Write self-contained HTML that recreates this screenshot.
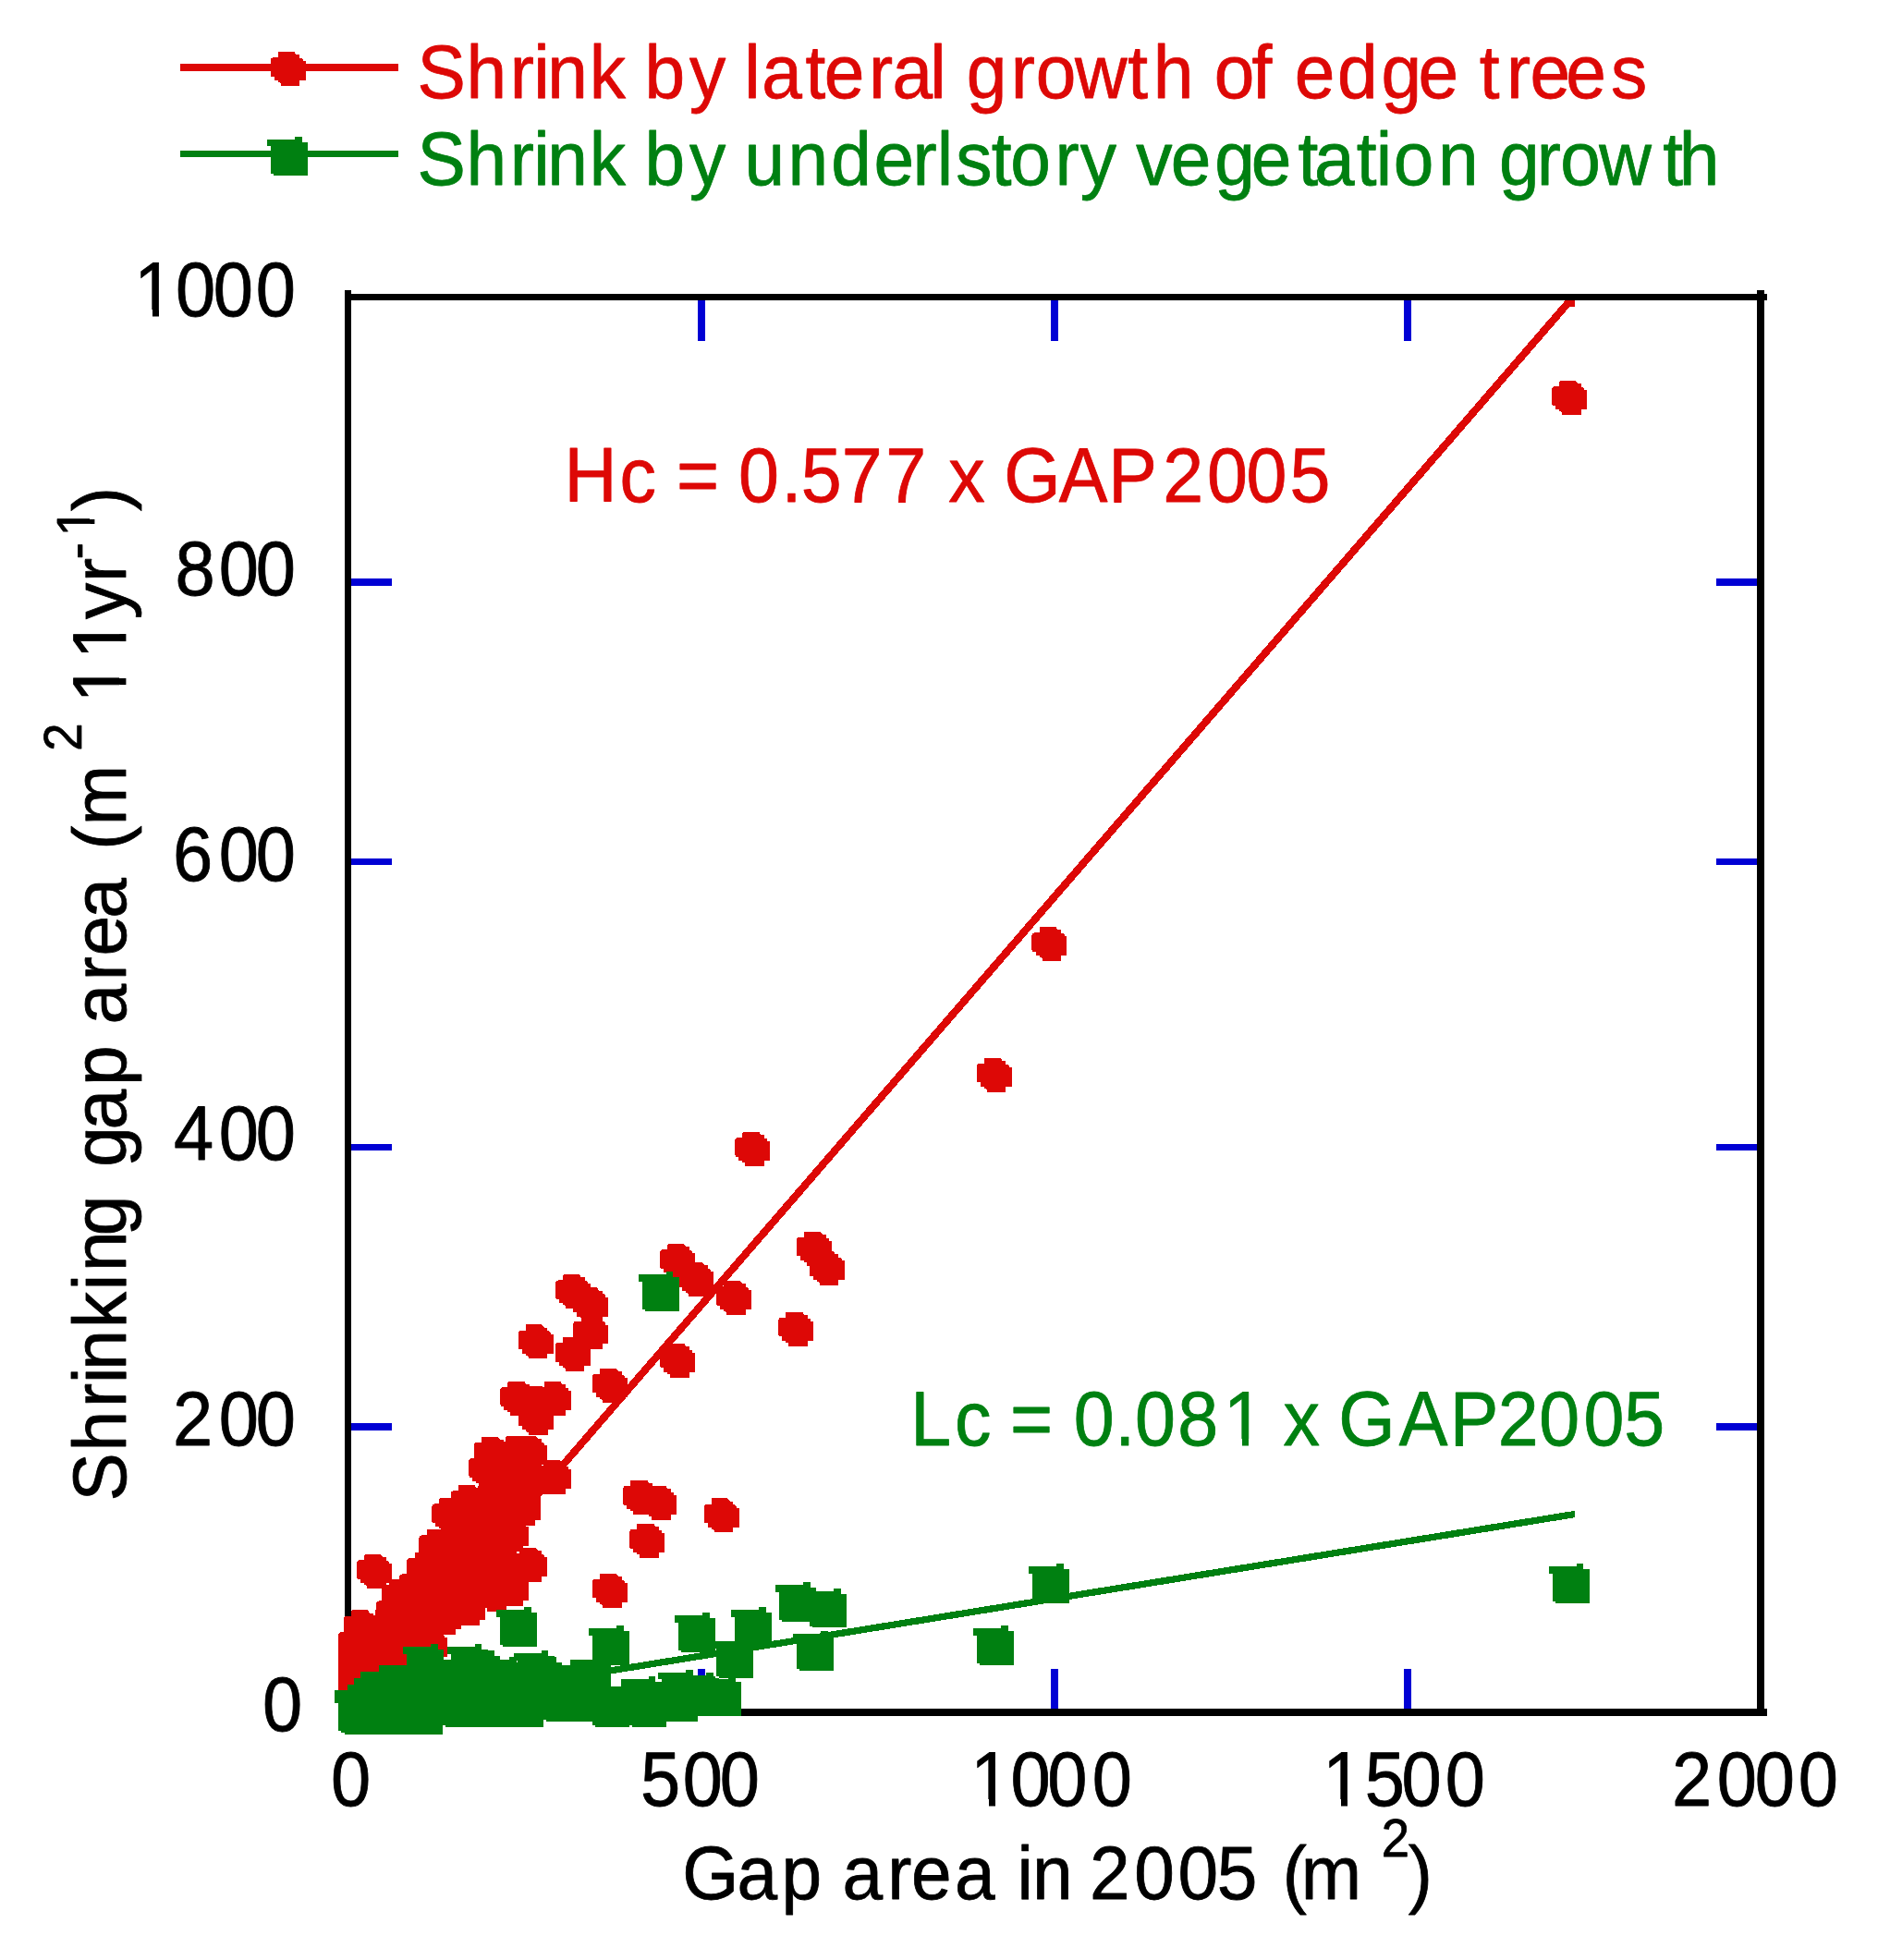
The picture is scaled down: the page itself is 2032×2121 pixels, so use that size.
<!DOCTYPE html>
<html><head><meta charset="utf-8"><title>Shrinking gap area vs gap area in 2005</title>
<style>
html,body{margin:0;padding:0;background:#fff;}
svg{display:block;font-family:"Liberation Sans", sans-serif;}
text{white-space:pre;stroke-width:0.8px;stroke-linejoin:round;}
</style></head><body>
<svg width="2032" height="2121" viewBox="0 0 2032 2121" shape-rendering="crispEdges">
<rect width="2032" height="2121" fill="#fff"/>
<polygon points="376.8,1857.0 376.8,1847.8 1698.0,320.0 1704.0,320.0 1704.0,325.5 379.5,1857.0" fill="#dd0806"/>
<polygon points="376.8,1857.0 376.8,1850.3 1704.0,1634.8 1704.0,1642.2 380.7,1857.0" fill="#008011"/>
<rect x="1694.30" y="322.00" width="9.50" height="9.50" fill="#dd0806"/>
<rect x="373.00" y="314.00" width="7.30" height="1543.00" fill="#000"/>
<rect x="1901.00" y="314.00" width="8.00" height="1543.00" fill="#000"/>
<rect x="373.00" y="318.00" width="1539.00" height="7.20" fill="#000"/>
<rect x="373.00" y="1849.00" width="1539.00" height="7.80" fill="#000"/>
<rect x="380.30" y="626.00" width="43.70" height="8.00" fill="#0000d4"/>
<rect x="1857.00" y="626.00" width="44.00" height="8.00" fill="#0000d4"/>
<rect x="380.30" y="929.00" width="43.70" height="7.30" fill="#0000d4"/>
<rect x="1857.00" y="929.00" width="44.00" height="7.30" fill="#0000d4"/>
<rect x="380.30" y="1238.00" width="43.70" height="7.30" fill="#0000d4"/>
<rect x="1857.00" y="1238.00" width="44.00" height="7.30" fill="#0000d4"/>
<rect x="380.30" y="1540.00" width="43.70" height="8.00" fill="#0000d4"/>
<rect x="1857.00" y="1540.00" width="44.00" height="8.00" fill="#0000d4"/>
<rect x="755.00" y="325.20" width="7.60" height="43.30" fill="#0000d4"/>
<rect x="755.00" y="1806.00" width="7.60" height="43.00" fill="#0000d4"/>
<rect x="1137.00" y="325.20" width="8.00" height="43.30" fill="#0000d4"/>
<rect x="1137.00" y="1806.00" width="8.00" height="43.00" fill="#0000d4"/>
<rect x="1519.00" y="325.20" width="7.60" height="43.30" fill="#0000d4"/>
<rect x="1519.00" y="1806.00" width="7.60" height="43.00" fill="#0000d4"/>
<g id="series-lateral" fill="#dd0806">
<polygon points="1687.9,411.9 1704.9,411.9 1707.1,415.1 1710.9,415.1 1710.9,418.9 1712.9,418.9 1714.1,420.3 1714.1,422.1 1717.0,422.1 1717.0,443.0 1710.9,443.0 1710.9,448.9 1690.2,448.9 1690.2,446.2 1688.9,445.2 1687.2,444.9 1687.2,443.0 1683.1,443.0 1683.1,438.8 1680.0,438.8 1679.0,436.9 1679.0,421.3 1680.0,419.0 1682.2,418.1 1687.2,418.1 1687.2,413.3"/>
<polygon points="1125.3,1002.9 1142.3,1002.9 1144.5,1006.1 1148.3,1006.1 1148.3,1009.9 1150.3,1009.9 1151.5,1011.3 1151.5,1013.1 1154.4,1013.1 1154.4,1034.0 1148.3,1034.0 1148.3,1039.9 1127.6,1039.9 1127.6,1037.2 1126.3,1036.2 1124.6,1035.9 1124.6,1034.0 1120.5,1034.0 1120.5,1029.8 1117.4,1029.8 1116.4,1027.9 1116.4,1012.3 1117.4,1010.0 1119.6,1009.1 1124.6,1009.1 1124.6,1004.3"/>
<polygon points="1065.4,1144.5 1082.4,1144.5 1084.6,1147.7 1088.4,1147.7 1088.4,1151.5 1090.4,1151.5 1091.6,1152.9 1091.6,1154.7 1094.5,1154.7 1094.5,1175.6 1088.4,1175.6 1088.4,1181.5 1067.7,1181.5 1067.7,1178.8 1066.4,1177.8 1064.7,1177.5 1064.7,1175.6 1060.6,1175.6 1060.6,1171.4 1057.5,1171.4 1056.5,1169.5 1056.5,1153.9 1057.5,1151.6 1059.7,1150.7 1064.7,1150.7 1064.7,1145.9"/>
<polygon points="804.1,1224.8 821.1,1224.8 823.3,1228.0 827.1,1228.0 827.1,1231.8 829.1,1231.8 830.3,1233.2 830.3,1235.0 833.2,1235.0 833.2,1255.9 827.1,1255.9 827.1,1261.8 806.4,1261.8 806.4,1259.1 805.1,1258.1 803.4,1257.8 803.4,1255.9 799.3,1255.9 799.3,1251.7 796.2,1251.7 795.2,1249.8 795.2,1234.2 796.2,1231.9 798.4,1231.0 803.4,1231.0 803.4,1226.2"/>
<polygon points="870.8,1332.5 887.8,1332.5 890.0,1335.7 893.8,1335.7 893.8,1339.5 895.8,1339.5 897.0,1340.9 897.0,1342.7 899.9,1342.7 899.9,1363.6 893.8,1363.6 893.8,1369.5 873.1,1369.5 873.1,1366.8 871.8,1365.8 870.1,1365.5 870.1,1363.6 866.0,1363.6 866.0,1359.4 862.9,1359.4 861.9,1357.5 861.9,1341.9 862.9,1339.6 865.1,1338.7 870.1,1338.7 870.1,1333.9"/>
<polygon points="884.4,1353.7 901.4,1353.7 903.6,1356.9 907.4,1356.9 907.4,1360.7 909.4,1360.7 910.6,1362.1 910.6,1363.9 913.5,1363.9 913.5,1384.8 907.4,1384.8 907.4,1390.7 886.7,1390.7 886.7,1388.0 885.4,1387.0 883.7,1386.7 883.7,1384.8 879.6,1384.8 879.6,1380.6 876.5,1380.6 875.5,1378.7 875.5,1363.1 876.5,1360.8 878.7,1359.9 883.7,1359.9 883.7,1355.1"/>
<polygon points="722.9,1345.8 739.9,1345.8 742.1,1349.0 745.9,1349.0 745.9,1352.8 747.9,1352.8 749.1,1354.2 749.1,1356.0 752.0,1356.0 752.0,1376.9 745.9,1376.9 745.9,1382.8 725.2,1382.8 725.2,1380.1 723.9,1379.1 722.2,1378.8 722.2,1376.9 718.1,1376.9 718.1,1372.7 715.0,1372.7 714.0,1370.8 714.0,1355.2 715.0,1352.9 717.2,1352.0 722.2,1352.0 722.2,1347.2"/>
<polygon points="742.9,1365.8 759.9,1365.8 762.1,1369.0 765.9,1369.0 765.9,1372.8 767.9,1372.8 769.1,1374.2 769.1,1376.0 772.0,1376.0 772.0,1396.9 765.9,1396.9 765.9,1402.8 745.2,1402.8 745.2,1400.1 743.9,1399.1 742.2,1398.8 742.2,1396.9 738.1,1396.9 738.1,1392.7 735.0,1392.7 734.0,1390.8 734.0,1375.2 735.0,1372.9 737.2,1372.0 742.2,1372.0 742.2,1367.2"/>
<polygon points="783.8,1385.9 800.8,1385.9 803.0,1389.1 806.8,1389.1 806.8,1392.9 808.8,1392.9 810.0,1394.3 810.0,1396.1 812.9,1396.1 812.9,1417.0 806.8,1417.0 806.8,1422.9 786.1,1422.9 786.1,1420.2 784.8,1419.2 783.1,1418.9 783.1,1417.0 779.0,1417.0 779.0,1412.8 775.9,1412.8 774.9,1410.9 774.9,1395.3 775.9,1393.0 778.1,1392.1 783.1,1392.1 783.1,1387.3"/>
<polygon points="851.0,1419.5 868.0,1419.5 870.2,1422.7 874.0,1422.7 874.0,1426.5 876.0,1426.5 877.2,1427.9 877.2,1429.7 880.1,1429.7 880.1,1450.6 874.0,1450.6 874.0,1456.5 853.3,1456.5 853.3,1453.8 852.0,1452.8 850.3,1452.5 850.3,1450.6 846.2,1450.6 846.2,1446.4 843.1,1446.4 842.1,1444.5 842.1,1428.9 843.1,1426.6 845.3,1425.7 850.3,1425.7 850.3,1420.9"/>
<polygon points="722.9,1453.5 739.9,1453.5 742.1,1456.7 745.9,1456.7 745.9,1460.5 747.9,1460.5 749.1,1461.9 749.1,1463.7 752.0,1463.7 752.0,1484.6 745.9,1484.6 745.9,1490.5 725.2,1490.5 725.2,1487.8 723.9,1486.8 722.2,1486.5 722.2,1484.6 718.1,1484.6 718.1,1480.4 715.0,1480.4 714.0,1478.5 714.0,1462.9 715.0,1460.6 717.2,1459.7 722.2,1459.7 722.2,1454.9"/>
<polygon points="609.8,1379.2 626.8,1379.2 629.0,1382.4 632.8,1382.4 632.8,1386.2 634.8,1386.2 636.0,1387.6 636.0,1389.4 638.9,1389.4 638.9,1410.3 632.8,1410.3 632.8,1416.2 612.1,1416.2 612.1,1413.5 610.8,1412.5 609.1,1412.2 609.1,1410.3 605.0,1410.3 605.0,1406.1 601.9,1406.1 600.9,1404.2 600.9,1388.6 601.9,1386.3 604.1,1385.4 609.1,1385.4 609.1,1380.6"/>
<polygon points="628.8,1393.4 645.8,1393.4 648.0,1396.6 651.8,1396.6 651.8,1400.4 653.8,1400.4 655.0,1401.8 655.0,1403.6 657.9,1403.6 657.9,1424.5 651.8,1424.5 651.8,1430.4 631.1,1430.4 631.1,1427.7 629.8,1426.7 628.1,1426.4 628.1,1424.5 624.0,1424.5 624.0,1420.3 620.9,1420.3 619.9,1418.4 619.9,1402.8 620.9,1400.5 623.1,1399.6 628.1,1399.6 628.1,1394.8"/>
<polygon points="629.2,1423.3 646.2,1423.3 648.4,1426.5 652.2,1426.5 652.2,1430.3 654.2,1430.3 655.4,1431.7 655.4,1433.5 658.3,1433.5 658.3,1454.4 652.2,1454.4 652.2,1460.3 631.5,1460.3 631.5,1457.6 630.2,1456.6 628.5,1456.3 628.5,1454.4 624.4,1454.4 624.4,1450.2 621.2,1450.2 620.3,1448.3 620.3,1432.7 621.2,1430.4 623.5,1429.5 628.5,1429.5 628.5,1424.7"/>
<polygon points="609.4,1446.8 626.4,1446.8 628.6,1450.0 632.4,1450.0 632.4,1453.8 634.4,1453.8 635.6,1455.2 635.6,1457.0 638.5,1457.0 638.5,1477.9 632.4,1477.9 632.4,1483.8 611.7,1483.8 611.7,1481.1 610.4,1480.1 608.7,1479.8 608.7,1477.9 604.6,1477.9 604.6,1473.7 601.5,1473.7 600.5,1471.8 600.5,1456.2 601.5,1453.9 603.7,1453.0 608.7,1453.0 608.7,1448.2"/>
<polygon points="569.4,1433.4 586.4,1433.4 588.6,1436.6 592.4,1436.6 592.4,1440.4 594.4,1440.4 595.6,1441.8 595.6,1443.6 598.5,1443.6 598.5,1464.5 592.4,1464.5 592.4,1470.4 571.7,1470.4 571.7,1467.7 570.4,1466.7 568.7,1466.4 568.7,1464.5 564.6,1464.5 564.6,1460.3 561.5,1460.3 560.5,1458.4 560.5,1442.8 561.5,1440.5 563.7,1439.6 568.7,1439.6 568.7,1434.8"/>
<polygon points="649.5,1480.5 666.5,1480.5 668.7,1483.7 672.5,1483.7 672.5,1487.5 674.5,1487.5 675.7,1488.9 675.7,1490.7 678.6,1490.7 678.6,1511.6 672.5,1511.6 672.5,1517.5 651.8,1517.5 651.8,1514.8 650.5,1513.8 648.8,1513.5 648.8,1511.6 644.7,1511.6 644.7,1507.4 641.6,1507.4 640.6,1505.5 640.6,1489.9 641.6,1487.6 643.8,1486.7 648.8,1486.7 648.8,1481.9"/>
<polygon points="550.0,1494.6 567.0,1494.6 569.2,1497.8 573.0,1497.8 573.0,1501.6 575.0,1501.6 576.2,1503.0 576.2,1504.8 579.1,1504.8 579.1,1525.7 573.0,1525.7 573.0,1531.6 552.3,1531.6 552.3,1528.9 551.0,1527.9 549.3,1527.6 549.3,1525.7 545.2,1525.7 545.2,1521.5 542.1,1521.5 541.1,1519.6 541.1,1504.0 542.1,1501.7 544.3,1500.8 549.3,1500.8 549.3,1496.0"/>
<polygon points="589.2,1494.6 606.2,1494.6 608.4,1497.8 612.2,1497.8 612.2,1501.6 614.2,1501.6 615.4,1503.0 615.4,1504.8 618.3,1504.8 618.3,1525.7 612.2,1525.7 612.2,1531.6 591.5,1531.6 591.5,1528.9 590.2,1527.9 588.5,1527.6 588.5,1525.7 584.4,1525.7 584.4,1521.5 581.2,1521.5 580.3,1519.6 580.3,1504.0 581.2,1501.7 583.5,1500.8 588.5,1500.8 588.5,1496.0"/>
<polygon points="569.6,1516.3 586.6,1516.3 588.8,1519.5 592.6,1519.5 592.6,1523.3 594.6,1523.3 595.8,1524.7 595.8,1526.5 598.7,1526.5 598.7,1547.4 592.6,1547.4 592.6,1553.3 571.9,1553.3 571.9,1550.6 570.6,1549.6 568.9,1549.3 568.9,1547.4 564.8,1547.4 564.8,1543.2 561.7,1543.2 560.7,1541.3 560.7,1525.7 561.7,1523.4 563.9,1522.5 568.9,1522.5 568.9,1517.7"/>
<polygon points="682.9,1601.6 699.9,1601.6 702.1,1604.8 705.9,1604.8 705.9,1608.6 707.9,1608.6 709.1,1610.0 709.1,1611.8 712.0,1611.8 712.0,1632.7 705.9,1632.7 705.9,1638.6 685.2,1638.6 685.2,1635.9 683.9,1634.9 682.2,1634.6 682.2,1632.7 678.1,1632.7 678.1,1628.5 675.0,1628.5 674.0,1626.6 674.0,1611.0 675.0,1608.7 677.2,1607.8 682.2,1607.8 682.2,1603.0"/>
<polygon points="703.0,1607.5 720.0,1607.5 722.2,1610.7 726.0,1610.7 726.0,1614.5 728.0,1614.5 729.2,1615.9 729.2,1617.7 732.1,1617.7 732.1,1638.6 726.0,1638.6 726.0,1644.5 705.3,1644.5 705.3,1641.8 704.0,1640.8 702.3,1640.5 702.3,1638.6 698.2,1638.6 698.2,1634.4 695.1,1634.4 694.1,1632.5 694.1,1616.9 695.1,1614.6 697.3,1613.7 702.3,1613.7 702.3,1608.9"/>
<polygon points="770.4,1621.4 787.4,1621.4 789.6,1624.6 793.4,1624.6 793.4,1628.4 795.4,1628.4 796.6,1629.8 796.6,1631.6 799.5,1631.6 799.5,1652.5 793.4,1652.5 793.4,1658.4 772.7,1658.4 772.7,1655.7 771.4,1654.7 769.7,1654.4 769.7,1652.5 765.6,1652.5 765.6,1648.3 762.5,1648.3 761.5,1646.4 761.5,1630.8 762.5,1628.5 764.7,1627.6 769.7,1627.6 769.7,1622.8"/>
<polygon points="689.9,1648.6 706.9,1648.6 709.1,1651.8 712.9,1651.8 712.9,1655.6 714.9,1655.6 716.1,1657.0 716.1,1658.8 719.0,1658.8 719.0,1679.7 712.9,1679.7 712.9,1685.6 692.2,1685.6 692.2,1682.9 690.9,1681.9 689.2,1681.6 689.2,1679.7 685.1,1679.7 685.1,1675.5 682.0,1675.5 681.0,1673.6 681.0,1658.0 682.0,1655.7 684.2,1654.8 689.2,1654.8 689.2,1650.0"/>
<polygon points="649.5,1702.5 666.5,1702.5 668.7,1705.7 672.5,1705.7 672.5,1709.5 674.5,1709.5 675.7,1710.9 675.7,1712.7 678.6,1712.7 678.6,1733.6 672.5,1733.6 672.5,1739.5 651.8,1739.5 651.8,1736.8 650.5,1735.8 648.8,1735.5 648.8,1733.6 644.7,1733.6 644.7,1729.4 641.6,1729.4 640.6,1727.5 640.6,1711.9 641.6,1709.6 643.8,1708.7 648.8,1708.7 648.8,1703.9"/>
<polygon points="394.9,1681.9 411.9,1681.9 414.1,1685.1 417.9,1685.1 417.9,1688.9 419.9,1688.9 421.1,1690.3 421.1,1692.1 424.0,1692.1 424.0,1713.0 417.9,1713.0 417.9,1718.9 397.2,1718.9 397.2,1716.2 395.9,1715.2 394.2,1714.9 394.2,1713.0 390.1,1713.0 390.1,1708.8 386.9,1708.8 386.0,1706.9 386.0,1691.3 386.9,1689.0 389.2,1688.1 394.2,1688.1 394.2,1683.3"/>
<polygon points="521.8,1554.5 538.8,1554.5 541.0,1557.7 544.8,1557.7 544.8,1561.5 546.8,1561.5 548.0,1562.9 548.0,1564.7 550.9,1564.7 550.9,1585.6 544.8,1585.6 544.8,1591.5 524.1,1591.5 524.1,1588.8 522.8,1587.8 521.1,1587.5 521.1,1585.6 517.0,1585.6 517.0,1581.4 513.9,1581.4 512.9,1579.5 512.9,1563.9 513.9,1561.6 516.1,1560.7 521.1,1560.7 521.1,1555.9"/>
<polygon points="547.9,1554.0 564.9,1554.0 567.1,1557.2 570.9,1557.2 570.9,1561.0 572.9,1561.0 574.1,1562.4 574.1,1564.2 577.0,1564.2 577.0,1585.1 570.9,1585.1 570.9,1591.0 550.2,1591.0 550.2,1588.3 548.9,1587.3 547.2,1587.0 547.2,1585.1 543.1,1585.1 543.1,1580.9 540.0,1580.9 539.0,1579.0 539.0,1563.4 540.0,1561.1 542.2,1560.2 547.2,1560.2 547.2,1555.4"/>
<polygon points="562.7,1553.7 579.7,1553.7 581.9,1556.9 585.7,1556.9 585.7,1560.7 587.7,1560.7 588.9,1562.1 588.9,1563.9 591.8,1563.9 591.8,1584.8 585.7,1584.8 585.7,1590.7 565.0,1590.7 565.0,1588.0 563.7,1587.0 562.0,1586.7 562.0,1584.8 557.9,1584.8 557.9,1580.6 554.8,1580.6 553.8,1578.7 553.8,1563.1 554.8,1560.8 557.0,1559.9 562.0,1559.9 562.0,1555.1"/>
<polygon points="516.1,1571.8 533.1,1571.8 535.3,1575.0 539.1,1575.0 539.1,1578.8 541.1,1578.8 542.3,1580.2 542.3,1582.0 545.2,1582.0 545.2,1602.9 539.1,1602.9 539.1,1608.8 518.4,1608.8 518.4,1606.1 517.1,1605.1 515.4,1604.8 515.4,1602.9 511.3,1602.9 511.3,1598.7 508.2,1598.7 507.2,1596.8 507.2,1581.2 508.2,1578.9 510.4,1578.0 515.4,1578.0 515.4,1573.2"/>
<polygon points="589.1,1580.0 606.1,1580.0 608.3,1583.2 612.1,1583.2 612.1,1587.0 614.1,1587.0 615.3,1588.4 615.3,1590.2 618.2,1590.2 618.2,1611.1 612.1,1611.1 612.1,1617.0 591.4,1617.0 591.4,1614.3 590.1,1613.3 588.4,1613.0 588.4,1611.1 584.3,1611.1 584.3,1606.9 581.2,1606.9 580.2,1605.0 580.2,1589.4 581.2,1587.1 583.4,1586.2 588.4,1586.2 588.4,1581.4"/>
<polygon points="555.9,1608.5 572.9,1608.5 575.1,1611.7 578.9,1611.7 578.9,1615.5 580.9,1615.5 582.1,1616.9 582.1,1618.7 585.0,1618.7 585.0,1639.6 578.9,1639.6 578.9,1645.5 558.2,1645.5 558.2,1642.8 556.9,1641.8 555.2,1641.5 555.2,1639.6 551.1,1639.6 551.1,1635.4 548.0,1635.4 547.0,1633.5 547.0,1617.9 548.0,1615.6 550.2,1614.7 555.2,1614.7 555.2,1609.9"/>
<polygon points="555.9,1613.5 572.9,1613.5 575.1,1616.7 578.9,1616.7 578.9,1620.5 580.9,1620.5 582.1,1621.9 582.1,1623.7 585.0,1623.7 585.0,1644.6 578.9,1644.6 578.9,1650.5 558.2,1650.5 558.2,1647.8 556.9,1646.8 555.2,1646.5 555.2,1644.6 551.1,1644.6 551.1,1640.4 548.0,1640.4 547.0,1638.5 547.0,1622.9 548.0,1620.6 550.2,1619.7 555.2,1619.7 555.2,1614.9"/>
<polygon points="542.9,1641.5 559.9,1641.5 562.1,1644.7 565.9,1644.7 565.9,1648.5 567.9,1648.5 569.1,1649.9 569.1,1651.7 572.0,1651.7 572.0,1672.6 565.9,1672.6 565.9,1678.5 545.2,1678.5 545.2,1675.8 543.9,1674.8 542.2,1674.5 542.2,1672.6 538.1,1672.6 538.1,1668.4 535.0,1668.4 534.0,1666.5 534.0,1650.9 535.0,1648.6 537.2,1647.7 542.2,1647.7 542.2,1642.9"/>
<polygon points="562.8,1675.0 579.8,1675.0 582.0,1678.2 585.8,1678.2 585.8,1682.0 587.8,1682.0 589.0,1683.4 589.0,1685.2 591.9,1685.2 591.9,1706.1 585.8,1706.1 585.8,1712.0 565.1,1712.0 565.1,1709.3 563.8,1708.3 562.1,1708.0 562.1,1706.1 558.0,1706.1 558.0,1701.9 554.9,1701.9 553.9,1700.0 553.9,1684.4 554.9,1682.1 557.1,1681.2 562.1,1681.2 562.1,1676.4"/>
<polygon points="542.9,1701.0 559.9,1701.0 562.1,1704.2 565.9,1704.2 565.9,1708.0 567.9,1708.0 569.1,1709.4 569.1,1711.2 572.0,1711.2 572.0,1732.1 565.9,1732.1 565.9,1738.0 545.2,1738.0 545.2,1735.3 543.9,1734.3 542.2,1734.0 542.2,1732.1 538.1,1732.1 538.1,1727.9 535.0,1727.9 534.0,1726.0 534.0,1710.4 535.0,1708.1 537.2,1707.2 542.2,1707.2 542.2,1702.4"/>
<polygon points="496.5,1607.1 513.5,1607.1 515.7,1610.3 519.5,1610.3 519.5,1614.1 521.5,1614.1 522.7,1615.5 522.7,1617.3 525.6,1617.3 525.6,1638.2 519.5,1638.2 519.5,1644.1 498.8,1644.1 498.8,1641.4 497.5,1640.4 495.8,1640.1 495.8,1638.2 491.7,1638.2 491.7,1634.0 488.6,1634.0 487.6,1632.1 487.6,1616.5 488.6,1614.2 490.8,1613.3 495.8,1613.3 495.8,1608.5"/>
<polygon points="476.0,1621.2 493.0,1621.2 495.2,1624.4 499.0,1624.4 499.0,1628.2 501.0,1628.2 502.2,1629.6 502.2,1631.4 505.1,1631.4 505.1,1652.3 499.0,1652.3 499.0,1658.2 478.3,1658.2 478.3,1655.5 477.0,1654.5 475.3,1654.2 475.3,1652.3 471.2,1652.3 471.2,1648.1 468.1,1648.1 467.1,1646.2 467.1,1630.6 468.1,1628.3 470.3,1627.4 475.3,1627.4 475.3,1622.6"/>
<polygon points="462.2,1655.0 479.2,1655.0 481.4,1658.2 485.2,1658.2 485.2,1662.0 487.2,1662.0 488.4,1663.4 488.4,1665.2 491.3,1665.2 491.3,1686.1 485.2,1686.1 485.2,1692.0 464.5,1692.0 464.5,1689.3 463.2,1688.3 461.5,1688.0 461.5,1686.1 457.4,1686.1 457.4,1681.9 454.2,1681.9 453.3,1680.0 453.3,1664.4 454.2,1662.1 456.5,1661.2 461.5,1661.2 461.5,1656.4"/>
<polygon points="449.2,1679.6 466.2,1679.6 468.4,1682.8 472.2,1682.8 472.2,1686.6 474.2,1686.6 475.4,1688.0 475.4,1689.8 478.3,1689.8 478.3,1710.7 472.2,1710.7 472.2,1716.6 451.5,1716.6 451.5,1713.9 450.2,1712.9 448.5,1712.6 448.5,1710.7 444.4,1710.7 444.4,1706.5 441.2,1706.5 440.3,1704.6 440.3,1689.0 441.2,1686.7 443.5,1685.8 448.5,1685.8 448.5,1681.0"/>
<polygon points="423.4,1708.5 440.4,1708.5 442.6,1711.7 446.4,1711.7 446.4,1715.5 448.4,1715.5 449.6,1716.9 449.6,1718.7 452.5,1718.7 452.5,1739.6 446.4,1739.6 446.4,1745.5 425.7,1745.5 425.7,1742.8 424.4,1741.8 422.7,1741.5 422.7,1739.6 418.6,1739.6 418.6,1735.4 415.4,1735.4 414.5,1733.5 414.5,1717.9 415.4,1715.6 417.7,1714.7 422.7,1714.7 422.7,1709.9"/>
<polygon points="421.6,1710.7 438.6,1710.7 440.8,1713.9 444.6,1713.9 444.6,1717.7 446.6,1717.7 447.8,1719.1 447.8,1720.9 450.7,1720.9 450.7,1741.8 444.6,1741.8 444.6,1747.7 423.9,1747.7 423.9,1745.0 422.6,1744.0 420.9,1743.7 420.9,1741.8 416.8,1741.8 416.8,1737.6 413.6,1737.6 412.7,1735.7 412.7,1720.1 413.6,1717.8 415.9,1716.9 420.9,1716.9 420.9,1712.1"/>
<polygon points="415.8,1726.1 432.8,1726.1 435.0,1729.3 438.8,1729.3 438.8,1733.1 440.8,1733.1 442.0,1734.5 442.0,1736.3 444.9,1736.3 444.9,1757.2 438.8,1757.2 438.8,1763.1 418.1,1763.1 418.1,1760.4 416.8,1759.4 415.1,1759.1 415.1,1757.2 411.0,1757.2 411.0,1753.0 407.8,1753.0 406.9,1751.1 406.9,1735.5 407.8,1733.2 410.1,1732.3 415.1,1732.3 415.1,1727.5"/>
<polygon points="380.8,1742.4 397.8,1742.4 400.0,1745.6 403.8,1745.6 403.8,1749.4 405.8,1749.4 407.0,1750.8 407.0,1752.6 409.9,1752.6 409.9,1773.5 403.8,1773.5 403.8,1779.4 383.1,1779.4 383.1,1776.7 381.8,1775.7 380.1,1775.4 380.1,1773.5 376.0,1773.5 376.0,1769.3 372.8,1769.3 371.9,1767.4 371.9,1751.8 372.8,1749.5 375.1,1748.6 380.1,1748.6 380.1,1743.8"/>
<polygon points="374.9,1759.9 391.9,1759.9 394.1,1763.1 397.9,1763.1 397.9,1766.9 399.9,1766.9 401.1,1768.3 401.1,1770.1 404.0,1770.1 404.0,1791.0 397.9,1791.0 397.9,1796.9 377.2,1796.9 377.2,1794.2 375.9,1793.2 374.2,1792.9 374.2,1791.0 370.1,1791.0 370.1,1786.8 366.9,1786.8 366.0,1784.9 366.0,1769.3 366.9,1767.0 369.2,1766.1 374.2,1766.1 374.2,1761.3"/>
<polygon points="374.9,1790.0 391.9,1790.0 394.1,1793.2 397.9,1793.2 397.9,1797.0 399.9,1797.0 401.1,1798.4 401.1,1800.2 404.0,1800.2 404.0,1821.1 397.9,1821.1 397.9,1827.0 377.2,1827.0 377.2,1824.3 375.9,1823.3 374.2,1823.0 374.2,1821.1 370.1,1821.1 370.1,1816.9 366.9,1816.9 366.0,1815.0 366.0,1799.4 366.9,1797.1 369.2,1796.2 374.2,1796.2 374.2,1791.4"/>
<polygon points="495.6,1722.0 512.6,1722.0 514.8,1725.2 518.6,1725.2 518.6,1729.0 520.6,1729.0 521.8,1730.4 521.8,1732.2 524.7,1732.2 524.7,1753.1 518.6,1753.1 518.6,1759.0 497.9,1759.0 497.9,1756.3 496.6,1755.3 494.9,1755.0 494.9,1753.1 490.8,1753.1 490.8,1748.9 487.6,1748.9 486.7,1747.0 486.7,1731.4 487.6,1729.1 489.9,1728.2 494.9,1728.2 494.9,1723.4"/>
<polygon points="454.4,1761.6 471.4,1761.6 473.6,1764.8 477.4,1764.8 477.4,1768.6 479.4,1768.6 480.6,1770.0 480.6,1771.8 483.5,1771.8 483.5,1792.7 477.4,1792.7 477.4,1798.6 456.7,1798.6 456.7,1795.9 455.4,1794.9 453.7,1794.6 453.7,1792.7 449.6,1792.7 449.6,1788.5 446.4,1788.5 445.5,1786.6 445.5,1771.0 446.4,1768.7 448.7,1767.8 453.7,1767.8 453.7,1763.0"/>
<polygon points="537.9,1581.5 554.9,1581.5 557.1,1584.7 560.9,1584.7 560.9,1588.5 562.9,1588.5 564.1,1589.9 564.1,1591.7 567.0,1591.7 567.0,1612.6 560.9,1612.6 560.9,1618.5 540.2,1618.5 540.2,1615.8 538.9,1614.8 537.2,1614.5 537.2,1612.6 533.1,1612.6 533.1,1608.4 530.0,1608.4 529.0,1606.5 529.0,1590.9 530.0,1588.6 532.2,1587.7 537.2,1587.7 537.2,1582.9"/>
<polygon points="561.9,1585.5 578.9,1585.5 581.1,1588.7 584.9,1588.7 584.9,1592.5 586.9,1592.5 588.1,1593.9 588.1,1595.7 591.0,1595.7 591.0,1616.6 584.9,1616.6 584.9,1622.5 564.2,1622.5 564.2,1619.8 562.9,1618.8 561.2,1618.5 561.2,1616.6 557.1,1616.6 557.1,1612.4 554.0,1612.4 553.0,1610.5 553.0,1594.9 554.0,1592.6 556.2,1591.7 561.2,1591.7 561.2,1586.9"/>
<polygon points="524.9,1601.5 541.9,1601.5 544.1,1604.7 547.9,1604.7 547.9,1608.5 549.9,1608.5 551.1,1609.9 551.1,1611.7 554.0,1611.7 554.0,1632.6 547.9,1632.6 547.9,1638.5 527.2,1638.5 527.2,1635.8 525.9,1634.8 524.2,1634.5 524.2,1632.6 520.1,1632.6 520.1,1628.4 517.0,1628.4 516.0,1626.5 516.0,1610.9 517.0,1608.6 519.2,1607.7 524.2,1607.7 524.2,1602.9"/>
<polygon points="534.9,1621.5 551.9,1621.5 554.1,1624.7 557.9,1624.7 557.9,1628.5 559.9,1628.5 561.1,1629.9 561.1,1631.7 564.0,1631.7 564.0,1652.6 557.9,1652.6 557.9,1658.5 537.2,1658.5 537.2,1655.8 535.9,1654.8 534.2,1654.5 534.2,1652.6 530.1,1652.6 530.1,1648.4 527.0,1648.4 526.0,1646.5 526.0,1630.9 527.0,1628.6 529.2,1627.7 534.2,1627.7 534.2,1622.9"/>
<polygon points="509.9,1631.5 526.9,1631.5 529.1,1634.7 532.9,1634.7 532.9,1638.5 534.9,1638.5 536.1,1639.9 536.1,1641.7 539.0,1641.7 539.0,1662.6 532.9,1662.6 532.9,1668.5 512.2,1668.5 512.2,1665.8 510.9,1664.8 509.2,1664.5 509.2,1662.6 505.1,1662.6 505.1,1658.4 501.9,1658.4 501.0,1656.5 501.0,1640.9 501.9,1638.6 504.2,1637.7 509.2,1637.7 509.2,1632.9"/>
<polygon points="504.9,1649.5 521.9,1649.5 524.1,1652.7 527.9,1652.7 527.9,1656.5 529.9,1656.5 531.1,1657.9 531.1,1659.7 534.0,1659.7 534.0,1680.6 527.9,1680.6 527.9,1686.5 507.2,1686.5 507.2,1683.8 505.9,1682.8 504.2,1682.5 504.2,1680.6 500.1,1680.6 500.1,1676.4 496.9,1676.4 496.0,1674.5 496.0,1658.9 496.9,1656.6 499.2,1655.7 504.2,1655.7 504.2,1650.9"/>
<polygon points="529.9,1661.5 546.9,1661.5 549.1,1664.7 552.9,1664.7 552.9,1668.5 554.9,1668.5 556.1,1669.9 556.1,1671.7 559.0,1671.7 559.0,1692.6 552.9,1692.6 552.9,1698.5 532.2,1698.5 532.2,1695.8 530.9,1694.8 529.2,1694.5 529.2,1692.6 525.1,1692.6 525.1,1688.4 522.0,1688.4 521.0,1686.5 521.0,1670.9 522.0,1668.6 524.2,1667.7 529.2,1667.7 529.2,1662.9"/>
<polygon points="489.9,1671.5 506.9,1671.5 509.1,1674.7 512.9,1674.7 512.9,1678.5 514.9,1678.5 516.1,1679.9 516.1,1681.7 519.0,1681.7 519.0,1702.6 512.9,1702.6 512.9,1708.5 492.2,1708.5 492.2,1705.8 490.9,1704.8 489.2,1704.5 489.2,1702.6 485.1,1702.6 485.1,1698.4 481.9,1698.4 481.0,1696.5 481.0,1680.9 481.9,1678.6 484.2,1677.7 489.2,1677.7 489.2,1672.9"/>
<polygon points="519.9,1686.5 536.9,1686.5 539.1,1689.7 542.9,1689.7 542.9,1693.5 544.9,1693.5 546.1,1694.9 546.1,1696.7 549.0,1696.7 549.0,1717.6 542.9,1717.6 542.9,1723.5 522.2,1723.5 522.2,1720.8 520.9,1719.8 519.2,1719.5 519.2,1717.6 515.1,1717.6 515.1,1713.4 511.9,1713.4 511.0,1711.5 511.0,1695.9 511.9,1693.6 514.2,1692.7 519.2,1692.7 519.2,1687.9"/>
<polygon points="479.9,1696.5 496.9,1696.5 499.1,1699.7 502.9,1699.7 502.9,1703.5 504.9,1703.5 506.1,1704.9 506.1,1706.7 509.0,1706.7 509.0,1727.6 502.9,1727.6 502.9,1733.5 482.2,1733.5 482.2,1730.8 480.9,1729.8 479.2,1729.5 479.2,1727.6 475.1,1727.6 475.1,1723.4 471.9,1723.4 471.0,1721.5 471.0,1705.9 471.9,1703.6 474.2,1702.7 479.2,1702.7 479.2,1697.9"/>
<polygon points="499.9,1703.5 516.9,1703.5 519.1,1706.7 522.9,1706.7 522.9,1710.5 524.9,1710.5 526.1,1711.9 526.1,1713.7 529.0,1713.7 529.0,1734.6 522.9,1734.6 522.9,1740.5 502.2,1740.5 502.2,1737.8 500.9,1736.8 499.2,1736.5 499.2,1734.6 495.1,1734.6 495.1,1730.4 491.9,1730.4 491.0,1728.5 491.0,1712.9 491.9,1710.6 494.2,1709.7 499.2,1709.7 499.2,1704.9"/>
<polygon points="459.9,1716.5 476.9,1716.5 479.1,1719.7 482.9,1719.7 482.9,1723.5 484.9,1723.5 486.1,1724.9 486.1,1726.7 489.0,1726.7 489.0,1747.6 482.9,1747.6 482.9,1753.5 462.2,1753.5 462.2,1750.8 460.9,1749.8 459.2,1749.5 459.2,1747.6 455.1,1747.6 455.1,1743.4 451.9,1743.4 451.0,1741.5 451.0,1725.9 451.9,1723.6 454.2,1722.7 459.2,1722.7 459.2,1717.9"/>
<polygon points="469.9,1731.5 486.9,1731.5 489.1,1734.7 492.9,1734.7 492.9,1738.5 494.9,1738.5 496.1,1739.9 496.1,1741.7 499.0,1741.7 499.0,1762.6 492.9,1762.6 492.9,1768.5 472.2,1768.5 472.2,1765.8 470.9,1764.8 469.2,1764.5 469.2,1762.6 465.1,1762.6 465.1,1758.4 461.9,1758.4 461.0,1756.5 461.0,1740.9 461.9,1738.6 464.2,1737.7 469.2,1737.7 469.2,1732.9"/>
<polygon points="439.9,1736.5 456.9,1736.5 459.1,1739.7 462.9,1739.7 462.9,1743.5 464.9,1743.5 466.1,1744.9 466.1,1746.7 469.0,1746.7 469.0,1767.6 462.9,1767.6 462.9,1773.5 442.2,1773.5 442.2,1770.8 440.9,1769.8 439.2,1769.5 439.2,1767.6 435.1,1767.6 435.1,1763.4 431.9,1763.4 431.0,1761.5 431.0,1745.9 431.9,1743.6 434.2,1742.7 439.2,1742.7 439.2,1737.9"/>
<polygon points="429.9,1756.5 446.9,1756.5 449.1,1759.7 452.9,1759.7 452.9,1763.5 454.9,1763.5 456.1,1764.9 456.1,1766.7 459.0,1766.7 459.0,1787.6 452.9,1787.6 452.9,1793.5 432.2,1793.5 432.2,1790.8 430.9,1789.8 429.2,1789.5 429.2,1787.6 425.1,1787.6 425.1,1783.4 421.9,1783.4 421.0,1781.5 421.0,1765.9 421.9,1763.6 424.2,1762.7 429.2,1762.7 429.2,1757.9"/>
<polygon points="409.9,1766.5 426.9,1766.5 429.1,1769.7 432.9,1769.7 432.9,1773.5 434.9,1773.5 436.1,1774.9 436.1,1776.7 439.0,1776.7 439.0,1797.6 432.9,1797.6 432.9,1803.5 412.2,1803.5 412.2,1800.8 410.9,1799.8 409.2,1799.5 409.2,1797.6 405.1,1797.6 405.1,1793.4 401.9,1793.4 401.0,1791.5 401.0,1775.9 401.9,1773.6 404.2,1772.7 409.2,1772.7 409.2,1767.9"/>
<polygon points="399.9,1786.5 416.9,1786.5 419.1,1789.7 422.9,1789.7 422.9,1793.5 424.9,1793.5 426.1,1794.9 426.1,1796.7 429.0,1796.7 429.0,1817.6 422.9,1817.6 422.9,1823.5 402.2,1823.5 402.2,1820.8 400.9,1819.8 399.2,1819.5 399.2,1817.6 395.1,1817.6 395.1,1813.4 391.9,1813.4 391.0,1811.5 391.0,1795.9 391.9,1793.6 394.2,1792.7 399.2,1792.7 399.2,1787.9"/>
<polygon points="419.9,1781.5 436.9,1781.5 439.1,1784.7 442.9,1784.7 442.9,1788.5 444.9,1788.5 446.1,1789.9 446.1,1791.7 449.0,1791.7 449.0,1812.6 442.9,1812.6 442.9,1818.5 422.2,1818.5 422.2,1815.8 420.9,1814.8 419.2,1814.5 419.2,1812.6 415.1,1812.6 415.1,1808.4 411.9,1808.4 411.0,1806.5 411.0,1790.9 411.9,1788.6 414.2,1787.7 419.2,1787.7 419.2,1782.9"/>
<polygon points="534.9,1681.5 551.9,1681.5 554.1,1684.7 557.9,1684.7 557.9,1688.5 559.9,1688.5 561.1,1689.9 561.1,1691.7 564.0,1691.7 564.0,1712.6 557.9,1712.6 557.9,1718.5 537.2,1718.5 537.2,1715.8 535.9,1714.8 534.2,1714.5 534.2,1712.6 530.1,1712.6 530.1,1708.4 527.0,1708.4 526.0,1706.5 526.0,1690.9 527.0,1688.6 529.2,1687.7 534.2,1687.7 534.2,1682.9"/>
<polygon points="487.9,1646.5 504.9,1646.5 507.1,1649.7 510.9,1649.7 510.9,1653.5 512.9,1653.5 514.1,1654.9 514.1,1656.7 517.0,1656.7 517.0,1677.6 510.9,1677.6 510.9,1683.5 490.2,1683.5 490.2,1680.8 488.9,1679.8 487.2,1679.5 487.2,1677.6 483.1,1677.6 483.1,1673.4 479.9,1673.4 479.0,1671.5 479.0,1655.9 479.9,1653.6 482.2,1652.7 487.2,1652.7 487.2,1647.9"/>
<polygon points="406.4,1741.5 423.4,1741.5 425.6,1744.7 429.4,1744.7 429.4,1748.5 431.4,1748.5 432.6,1749.9 432.6,1751.7 435.5,1751.7 435.5,1772.6 429.4,1772.6 429.4,1778.5 408.7,1778.5 408.7,1775.8 407.4,1774.8 405.7,1774.5 405.7,1772.6 401.6,1772.6 401.6,1768.4 398.4,1768.4 397.5,1766.5 397.5,1750.9 398.4,1748.6 400.7,1747.7 405.7,1747.7 405.7,1742.9"/>
<polygon points="440.9,1697.1 457.9,1697.1 460.1,1700.3 463.9,1700.3 463.9,1704.1 465.9,1704.1 467.1,1705.5 467.1,1707.3 470.0,1707.3 470.0,1728.2 463.9,1728.2 463.9,1734.1 443.2,1734.1 443.2,1731.4 441.9,1730.4 440.2,1730.1 440.2,1728.2 436.1,1728.2 436.1,1724.0 432.9,1724.0 432.0,1722.1 432.0,1706.5 432.9,1704.2 435.2,1703.3 440.2,1703.3 440.2,1698.5"/>
<polygon points="468.9,1679.2 485.9,1679.2 488.1,1682.4 491.9,1682.4 491.9,1686.2 493.9,1686.2 495.1,1687.6 495.1,1689.4 498.0,1689.4 498.0,1710.3 491.9,1710.3 491.9,1716.2 471.2,1716.2 471.2,1713.5 469.9,1712.5 468.2,1712.2 468.2,1710.3 464.1,1710.3 464.1,1706.1 460.9,1706.1 460.0,1704.2 460.0,1688.6 460.9,1686.3 463.2,1685.4 468.2,1685.4 468.2,1680.6"/>
<polygon points="374.9,1806.5 391.9,1806.5 394.1,1809.7 397.9,1809.7 397.9,1813.5 399.9,1813.5 401.1,1814.9 401.1,1816.7 404.0,1816.7 404.0,1837.6 397.9,1837.6 397.9,1843.5 377.2,1843.5 377.2,1840.8 375.9,1839.8 374.2,1839.5 374.2,1837.6 370.1,1837.6 370.1,1833.4 366.9,1833.4 366.0,1831.5 366.0,1815.9 366.9,1813.6 369.2,1812.7 374.2,1812.7 374.2,1807.9"/>
<polygon points="441.9,1697.5 458.9,1697.5 461.1,1700.7 464.9,1700.7 464.9,1704.5 466.9,1704.5 468.1,1705.9 468.1,1707.7 471.0,1707.7 471.0,1728.6 464.9,1728.6 464.9,1734.5 444.2,1734.5 444.2,1731.8 442.9,1730.8 441.2,1730.5 441.2,1728.6 437.1,1728.6 437.1,1724.4 433.9,1724.4 433.0,1722.5 433.0,1706.9 433.9,1704.6 436.2,1703.7 441.2,1703.7 441.2,1698.9"/>
<polygon points="524.9,1706.5 541.9,1706.5 544.1,1709.7 547.9,1709.7 547.9,1713.5 549.9,1713.5 551.1,1714.9 551.1,1716.7 554.0,1716.7 554.0,1737.6 547.9,1737.6 547.9,1743.5 527.2,1743.5 527.2,1740.8 525.9,1739.8 524.2,1739.5 524.2,1737.6 520.1,1737.6 520.1,1733.4 517.0,1733.4 516.0,1731.5 516.0,1715.9 517.0,1713.6 519.2,1712.7 524.2,1712.7 524.2,1707.9"/>
<polygon points="569.4,1500.0 586.4,1500.0 588.6,1503.2 592.4,1503.2 592.4,1507.0 594.4,1507.0 595.6,1508.4 595.6,1510.2 598.5,1510.2 598.5,1531.1 592.4,1531.1 592.4,1537.0 571.7,1537.0 571.7,1534.3 570.4,1533.3 568.7,1533.0 568.7,1531.1 564.6,1531.1 564.6,1526.9 561.5,1526.9 560.5,1525.0 560.5,1509.4 561.5,1507.1 563.7,1506.2 568.7,1506.2 568.7,1501.4"/>
<polygon points="374.9,1774.5 391.9,1774.5 394.1,1777.7 397.9,1777.7 397.9,1781.5 399.9,1781.5 401.1,1782.9 401.1,1784.7 404.0,1784.7 404.0,1805.6 397.9,1805.6 397.9,1811.5 377.2,1811.5 377.2,1808.8 375.9,1807.8 374.2,1807.5 374.2,1805.6 370.1,1805.6 370.1,1801.4 366.9,1801.4 366.0,1799.5 366.0,1783.9 366.9,1781.6 369.2,1780.7 374.2,1780.7 374.2,1775.9"/>
</g>
<g id="series-understory" fill="#008011">
<polygon points="1675.5,1695.4 1705.5,1695.4 1705.5,1692.4 1713.3,1692.4 1713.3,1698.4 1719.5,1698.4 1719.5,1735.2 1682.5,1735.2 1682.5,1733.3 1679.5,1733.3 1679.5,1703.3 1675.5,1703.3"/>
<polygon points="1113.1,1695.2 1143.1,1695.2 1143.1,1692.2 1150.9,1692.2 1150.9,1698.2 1157.1,1698.2 1157.1,1735.0 1120.1,1735.0 1120.1,1733.1 1117.1,1733.1 1117.1,1703.1 1113.1,1703.1"/>
<polygon points="1053.1,1762.1 1083.1,1762.1 1083.1,1759.1 1090.9,1759.1 1090.9,1765.1 1097.1,1765.1 1097.1,1801.9 1060.1,1801.9 1060.1,1800.0 1057.1,1800.0 1057.1,1770.0 1053.1,1770.0"/>
<polygon points="839.2,1715.2 869.2,1715.2 869.2,1712.2 877.0,1712.2 877.0,1718.2 883.2,1718.2 883.2,1755.0 846.2,1755.0 846.2,1753.1 843.2,1753.1 843.2,1723.1 839.2,1723.1"/>
<polygon points="871.9,1721.6 901.9,1721.6 901.9,1718.6 909.7,1718.6 909.7,1724.6 915.9,1724.6 915.9,1761.4 878.9,1761.4 878.9,1759.5 875.9,1759.5 875.9,1729.5 871.9,1729.5"/>
<polygon points="858.0,1767.9 888.0,1767.9 888.0,1764.9 895.8,1764.9 895.8,1770.9 902.0,1770.9 902.0,1807.7 865.0,1807.7 865.0,1805.8 862.0,1805.8 862.0,1775.8 858.0,1775.8"/>
<polygon points="690.5,1379.3 720.5,1379.3 720.5,1376.3 728.3,1376.3 728.3,1382.3 734.5,1382.3 734.5,1419.1 697.5,1419.1 697.5,1417.2 694.5,1417.2 694.5,1387.2 690.5,1387.2"/>
<polygon points="536.8,1742.2 566.8,1742.2 566.8,1739.2 574.6,1739.2 574.6,1745.2 580.8,1745.2 580.8,1782.0 543.8,1782.0 543.8,1780.1 540.8,1780.1 540.8,1750.1 536.8,1750.1"/>
<polygon points="637.4,1762.4 667.4,1762.4 667.4,1759.4 675.2,1759.4 675.2,1765.4 681.4,1765.4 681.4,1802.2 644.4,1802.2 644.4,1800.3 641.4,1800.3 641.4,1770.3 637.4,1770.3"/>
<polygon points="730.4,1748.0 760.4,1748.0 760.4,1745.0 768.2,1745.0 768.2,1751.0 774.4,1751.0 774.4,1787.8 737.4,1787.8 737.4,1785.9 734.4,1785.9 734.4,1755.9 730.4,1755.9"/>
<polygon points="790.8,1742.4 820.8,1742.4 820.8,1739.4 828.6,1739.4 828.6,1745.4 834.8,1745.4 834.8,1782.2 797.8,1782.2 797.8,1780.3 794.8,1780.3 794.8,1750.3 790.8,1750.3"/>
<polygon points="770.8,1775.9 800.8,1775.9 800.8,1772.9 808.6,1772.9 808.6,1778.9 814.8,1778.9 814.8,1815.7 777.8,1815.7 777.8,1813.8 774.8,1813.8 774.8,1783.8 770.8,1783.8"/>
<polygon points="362.0,1828.7 392.0,1828.7 392.0,1825.7 399.8,1825.7 399.8,1831.7 406.0,1831.7 406.0,1868.5 369.0,1868.5 369.0,1866.6 366.0,1866.6 366.0,1836.6 362.0,1836.6"/>
<polygon points="362.0,1835.5 392.0,1835.5 392.0,1832.5 399.8,1832.5 399.8,1838.5 406.0,1838.5 406.0,1875.3 369.0,1875.3 369.0,1873.4 366.0,1873.4 366.0,1843.4 362.0,1843.4"/>
<polygon points="376.2,1822.9 406.2,1822.9 406.2,1819.9 414.0,1819.9 414.0,1825.9 420.2,1825.9 420.2,1862.7 383.2,1862.7 383.2,1860.8 380.2,1860.8 380.2,1830.8 376.2,1830.8"/>
<polygon points="383.3,1815.9 413.3,1815.9 413.3,1812.9 421.1,1812.9 421.1,1818.9 427.3,1818.9 427.3,1855.7 390.3,1855.7 390.3,1853.8 387.3,1853.8 387.3,1823.8 383.3,1823.8"/>
<polygon points="390.3,1808.9 420.3,1808.9 420.3,1805.9 428.1,1805.9 428.1,1811.9 434.3,1811.9 434.3,1848.7 397.3,1848.7 397.3,1846.8 394.3,1846.8 394.3,1816.8 390.3,1816.8"/>
<polygon points="410.1,1801.9 440.1,1801.9 440.1,1798.9 447.9,1798.9 447.9,1804.9 454.1,1804.9 454.1,1841.7 417.1,1841.7 417.1,1839.8 414.1,1839.8 414.1,1809.8 410.1,1809.8"/>
<polygon points="436.3,1782.0 466.3,1782.0 466.3,1779.0 474.1,1779.0 474.1,1785.0 480.3,1785.0 480.3,1821.8 443.3,1821.8 443.3,1819.9 440.3,1819.9 440.3,1789.9 436.3,1789.9"/>
<polygon points="483.6,1782.0 513.6,1782.0 513.6,1779.0 521.4,1779.0 521.4,1785.0 527.6,1785.0 527.6,1821.8 490.6,1821.8 490.6,1819.9 487.6,1819.9 487.6,1789.9 483.6,1789.9"/>
<polygon points="497.0,1789.1 527.0,1789.1 527.0,1786.1 534.8,1786.1 534.8,1792.1 541.0,1792.1 541.0,1828.9 504.0,1828.9 504.0,1827.0 501.0,1827.0 501.0,1797.0 497.0,1797.0"/>
<polygon points="521.0,1796.1 551.0,1796.1 551.0,1793.1 558.8,1793.1 558.8,1799.1 565.0,1799.1 565.0,1835.9 528.0,1835.9 528.0,1834.0 525.0,1834.0 525.0,1804.0 521.0,1804.0"/>
<polygon points="466.0,1796.1 496.0,1796.1 496.0,1793.1 503.8,1793.1 503.8,1799.1 510.0,1799.1 510.0,1835.9 473.0,1835.9 473.0,1834.0 470.0,1834.0 470.0,1804.0 466.0,1804.0"/>
<polygon points="555.5,1789.3 585.5,1789.3 585.5,1786.3 593.3,1786.3 593.3,1792.3 599.5,1792.3 599.5,1829.1 562.5,1829.1 562.5,1827.2 559.5,1827.2 559.5,1797.2 555.5,1797.2"/>
<polygon points="564.0,1796.1 594.0,1796.1 594.0,1793.1 601.8,1793.1 601.8,1799.1 608.0,1799.1 608.0,1835.9 571.0,1835.9 571.0,1834.0 568.0,1834.0 568.0,1804.0 564.0,1804.0"/>
<polygon points="588.0,1802.1 618.0,1802.1 618.0,1799.1 625.8,1799.1 625.8,1805.1 632.0,1805.1 632.0,1841.9 595.0,1841.9 595.0,1840.0 592.0,1840.0 592.0,1810.0 588.0,1810.0"/>
<polygon points="616.7,1795.9 646.7,1795.9 646.7,1792.9 654.5,1792.9 654.5,1798.9 660.7,1798.9 660.7,1835.7 623.7,1835.7 623.7,1833.8 620.7,1833.8 620.7,1803.8 616.7,1803.8"/>
<polygon points="671.5,1816.7 701.5,1816.7 701.5,1813.7 709.3,1813.7 709.3,1819.7 715.5,1819.7 715.5,1856.5 678.5,1856.5 678.5,1854.6 675.5,1854.6 675.5,1824.6 671.5,1824.6"/>
<polygon points="712.2,1809.5 742.2,1809.5 742.2,1806.5 750.0,1806.5 750.0,1812.5 756.2,1812.5 756.2,1849.3 719.2,1849.3 719.2,1847.4 716.2,1847.4 716.2,1817.4 712.2,1817.4"/>
<polygon points="734.1,1812.8 764.1,1812.8 764.1,1809.8 771.9,1809.8 771.9,1815.8 778.1,1815.8 778.1,1852.6 741.1,1852.6 741.1,1850.7 738.1,1850.7 738.1,1820.7 734.1,1820.7"/>
<polygon points="758.0,1817.1 788.0,1817.1 788.0,1814.1 795.8,1814.1 795.8,1820.1 802.0,1820.1 802.0,1856.9 765.0,1856.9 765.0,1855.0 762.0,1855.0 762.0,1825.0 758.0,1825.0"/>
<polygon points="366.0,1836.7 396.0,1836.7 396.0,1833.7 403.8,1833.7 403.8,1839.7 410.0,1839.7 410.0,1876.5 373.0,1876.5 373.0,1874.6 370.0,1874.6 370.0,1844.6 366.0,1844.6"/>
<polygon points="401.0,1836.7 431.0,1836.7 431.0,1833.7 438.8,1833.7 438.8,1839.7 445.0,1839.7 445.0,1876.5 408.0,1876.5 408.0,1874.6 405.0,1874.6 405.0,1844.6 401.0,1844.6"/>
<polygon points="435.0,1836.7 465.0,1836.7 465.0,1833.7 472.8,1833.7 472.8,1839.7 479.0,1839.7 479.0,1876.5 442.0,1876.5 442.0,1874.6 439.0,1874.6 439.0,1844.6 435.0,1844.6"/>
<polygon points="475.0,1829.1 505.0,1829.1 505.0,1826.1 512.8,1826.1 512.8,1832.1 519.0,1832.1 519.0,1868.9 482.0,1868.9 482.0,1867.0 479.0,1867.0 479.0,1837.0 475.0,1837.0"/>
<polygon points="510.0,1829.1 540.0,1829.1 540.0,1826.1 547.8,1826.1 547.8,1832.1 554.0,1832.1 554.0,1868.9 517.0,1868.9 517.0,1867.0 514.0,1867.0 514.0,1837.0 510.0,1837.0"/>
<polygon points="544.0,1829.1 574.0,1829.1 574.0,1826.1 581.8,1826.1 581.8,1832.1 588.0,1832.1 588.0,1868.9 551.0,1868.9 551.0,1867.0 548.0,1867.0 548.0,1837.0 544.0,1837.0"/>
<polygon points="584.0,1823.1 614.0,1823.1 614.0,1820.1 621.8,1820.1 621.8,1826.1 628.0,1826.1 628.0,1862.9 591.0,1862.9 591.0,1861.0 588.0,1861.0 588.0,1831.0 584.0,1831.0"/>
<polygon points="597.0,1823.1 627.0,1823.1 627.0,1820.1 634.8,1820.1 634.8,1826.1 641.0,1826.1 641.0,1862.9 604.0,1862.9 604.0,1861.0 601.0,1861.0 601.0,1831.0 597.0,1831.0"/>
<polygon points="637.0,1828.7 667.0,1828.7 667.0,1825.7 674.8,1825.7 674.8,1831.7 681.0,1831.7 681.0,1868.5 644.0,1868.5 644.0,1866.6 641.0,1866.6 641.0,1836.6 637.0,1836.6"/>
<polygon points="676.5,1828.7 706.5,1828.7 706.5,1825.7 714.3,1825.7 714.3,1831.7 720.5,1831.7 720.5,1868.5 683.5,1868.5 683.5,1866.6 680.5,1866.6 680.5,1836.6 676.5,1836.6"/>
<polygon points="711.0,1823.1 741.0,1823.1 741.0,1820.1 748.8,1820.1 748.8,1826.1 755.0,1826.1 755.0,1862.9 718.0,1862.9 718.0,1861.0 715.0,1861.0 715.0,1831.0 711.0,1831.0"/>
<polygon points="736.0,1817.1 766.0,1817.1 766.0,1814.1 773.8,1814.1 773.8,1820.1 780.0,1820.1 780.0,1856.9 743.0,1856.9 743.0,1855.0 740.0,1855.0 740.0,1825.0 736.0,1825.0"/>
<polygon points="426.0,1810.1 456.0,1810.1 456.0,1807.1 463.8,1807.1 463.8,1813.1 470.0,1813.1 470.0,1849.9 433.0,1849.9 433.0,1848.0 430.0,1848.0 430.0,1818.0 426.0,1818.0"/>
<polygon points="456.0,1805.1 486.0,1805.1 486.0,1802.1 493.8,1802.1 493.8,1808.1 500.0,1808.1 500.0,1844.9 463.0,1844.9 463.0,1843.0 460.0,1843.0 460.0,1813.0 456.0,1813.0"/>
<polygon points="521.0,1805.1 551.0,1805.1 551.0,1802.1 558.8,1802.1 558.8,1808.1 565.0,1808.1 565.0,1844.9 528.0,1844.9 528.0,1843.0 525.0,1843.0 525.0,1813.0 521.0,1813.0"/>
<polygon points="536.0,1810.1 566.0,1810.1 566.0,1807.1 573.8,1807.1 573.8,1813.1 580.0,1813.1 580.0,1849.9 543.0,1849.9 543.0,1848.0 540.0,1848.0 540.0,1818.0 536.0,1818.0"/>
<polygon points="616.0,1815.1 646.0,1815.1 646.0,1812.1 653.8,1812.1 653.8,1818.1 660.0,1818.1 660.0,1854.9 623.0,1854.9 623.0,1853.0 620.0,1853.0 620.0,1823.0 616.0,1823.0"/>
<polygon points="646.0,1825.1 676.0,1825.1 676.0,1822.1 683.8,1822.1 683.8,1828.1 690.0,1828.1 690.0,1864.9 653.0,1864.9 653.0,1863.0 650.0,1863.0 650.0,1833.0 646.0,1833.0"/>
</g>
<rect x="195.00" y="69.00" width="236.00" height="8.00" fill="#dd0806"/>
<g fill="#dd0806"><polygon points="301.4,56.0 318.4,56.0 320.6,59.2 324.4,59.2 324.4,63.0 326.4,63.0 327.6,64.4 327.6,66.2 330.5,66.2 330.5,87.1 324.4,87.1 324.4,93.0 303.7,93.0 303.7,90.3 302.4,89.3 300.7,89.0 300.7,87.1 296.6,87.1 296.6,82.9 293.4,82.9 292.5,81.0 292.5,65.4 293.4,63.1 295.7,62.2 300.7,62.2 300.7,57.4"/></g>
<rect x="195.00" y="162.60" width="236.00" height="7.80" fill="#008011"/>
<g fill="#008011"><polygon points="289.1,150.5 319.1,150.5 319.1,147.5 326.9,147.5 326.9,153.5 333.1,153.5 333.1,190.3 296.1,190.3 296.1,188.4 293.1,188.4 293.1,158.4 289.1,158.4"/></g>
<text transform="translate(0,105.5) scale(0.9570,1.0000)" x="471.7 527.2 576.6 603.2 618.9 666.4 707.4 728.8 779.6 820.6 841.4 861.2 910.6 931.8 982.2 1009.0 1051.4 1069.6 1092.7 1142.9 1171.2 1215.3 1275.1 1303.8 1349.4 1372.8 1415.5 1438.2 1463.6 1512.0 1561.7 1603.5 1649.1 1672.8 1703.3 1729.8 1770.4 1821.3" y="0" font-size="82" fill="#dd0806" stroke="#dd0806">Shrink by lateral growth of edge trees</text>
<text transform="translate(0,199.5) scale(0.9570,1.0000)" x="471.7 527.2 576.6 603.2 618.9 666.4 707.4 728.8 779.6 820.6 841.6 890.7 939.7 988.1 1031.9 1059.3 1080.8 1121.0 1142.4 1192.7 1221.4 1262.4 1284.4 1323.7 1373.4 1414.7 1467.6 1485.8 1533.8 1555.7 1575.6 1625.8 1671.4 1694.9 1737.6 1764.0 1808.1 1880.0 1898.5" y="0" font-size="82" fill="#008011" stroke="#008011">Shrink by underlstory vegetation growth</text>
<text transform="translate(0,543.0) scale(0.9400,1.0000)" x="649.5 713.2 755.2 778.8 827.8 850.1 899.6 922.0 968.9 1019.5 1066.2 1091.8 1133.8 1155.5 1218.9 1275.8 1338.6 1389.4 1434.6 1484.6" y="0" font-size="84" fill="#dd0806" stroke="#dd0806">Hc = 0.577 x GAP2005</text>
<text transform="translate(0,1564.0) scale(0.9400,1.0000)" x="1048.2 1098.9 1140.9 1162.8 1211.9 1235.8 1283.3 1306.3 1355.7 1408.4 1455.1 1477.0 1519.0 1540.6 1610.4 1668.9 1724.3 1771.5 1822.9 1869.4" y="0" font-size="84" fill="#008011" stroke="#008011">Lc = 0.081 x GAP2005</text>
<rect x="1328.2" y="1556.8" width="15.3" height="8.4" fill="#fff"/>
<rect x="1351.0" y="1556.8" width="14.7" height="8.4" fill="#fff"/>
<text transform="translate(0,342.2) scale(0.9250,1.0000)" x="157.0 205.3 249.4 299.2" y="0" font-size="84" fill="#000" stroke="#000">1000</text>
<rect x="149.4" y="335.0" width="15.1" height="8.4" fill="#fff"/>
<rect x="171.9" y="335.0" width="14.5" height="8.4" fill="#fff"/>
<text transform="translate(0,644.0) scale(0.9250,1.0000)" x="204.9 256.0 299.2" y="0" font-size="84" fill="#000" stroke="#000">800</text>
<text transform="translate(0,953.0) scale(0.9250,1.0000)" x="202.1 256.0 299.2" y="0" font-size="84" fill="#000" stroke="#000">600</text>
<text transform="translate(0,1255.0) scale(0.9250,1.0000)" x="203.3 256.0 299.2" y="0" font-size="84" fill="#000" stroke="#000">400</text>
<text transform="translate(0,1564.0) scale(0.9250,1.0000)" x="202.2 256.0 299.2" y="0" font-size="84" fill="#000" stroke="#000">200</text>
<text transform="translate(0,1873.0) scale(0.9250,1.0000)" x="306.9" y="0" font-size="84" fill="#000" stroke="#000">0</text>
<text transform="translate(0,1954.0) scale(0.9250,1.0000)" x="386.9" y="0" font-size="84" fill="#000" stroke="#000">0</text>
<text transform="translate(0,1954.0) scale(0.9250,1.0000)" x="749.1 798.7 842.0" y="0" font-size="84" fill="#000" stroke="#000">500</text>
<text transform="translate(0,1954.0) scale(0.9250,1.0000)" x="1135.4 1182.3 1225.2 1277.7" y="0" font-size="84" fill="#000" stroke="#000">1000</text>
<rect x="1054.4" y="1946.8" width="15.1" height="8.4" fill="#fff"/>
<rect x="1076.9" y="1946.8" width="14.5" height="8.4" fill="#fff"/>
<text transform="translate(0,1954.0) scale(0.9250,1.0000)" x="1547.2 1596.5 1639.4 1690.6" y="0" font-size="84" fill="#000" stroke="#000">1500</text>
<rect x="1435.4" y="1946.8" width="15.1" height="8.4" fill="#fff"/>
<rect x="1457.9" y="1946.8" width="14.5" height="8.4" fill="#fff"/>
<text transform="translate(0,1954.0) scale(0.9250,1.0000)" x="1955.8 2008.5 2052.7 2103.6" y="0" font-size="84" fill="#000" stroke="#000">2000</text>
<text transform="translate(0,2055.0) scale(0.9570,1.0000)" x="771.5 833.3 883.6 929.2 952.5 1003.4 1030.4 1079.4 1125.0 1150.0 1167.2 1212.8 1232.1 1282.5 1331.8 1375.8 1421.4 1450.2 1471.1 1539.5 1561.8 1592.3" y="0" font-size="82" fill="#000" stroke="#000">Gap area in 2005 (m <tspan font-size="57" y="-46.4">2</tspan><tspan y="0">)</tspan></text>
<text transform="translate(136.0,0) rotate(-90) scale(0.9570,1)" x="-1697.6 -1641.0 -1591.5 -1564.3 -1549.5 -1501.9 -1458.9 -1437.8 -1397.3 -1351.7 -1319.6 -1277.4 -1227.8 -1182.1 -1158.3 -1109.0 -1081.1 -1038.4 -992.8 -961.1 -933.4 -865.1 -849.2 -817.5 -794.8 -745.4 -700.2 -658.3 -632.5 -606.3 -578.2" y="0" font-size="82" fill="#000" stroke="#000">Shrinking gap area (m <tspan font-size="57" y="-47.9">2</tspan><tspan y="0"> 11yr</tspan><tspan font-size="57" y="-34.0">-1</tspan><tspan y="0">)</tspan></text>
<rect x="129.0" y="741.2" width="8.2" height="15.3" fill="#fff"/>
<rect x="129.0" y="719.1" width="8.2" height="14.6" fill="#fff"/>
<rect x="129.0" y="693.9" width="8.2" height="15.3" fill="#fff"/>
<rect x="129.0" y="671.8" width="8.2" height="14.6" fill="#fff"/>
<rect x="96.9" y="566.7" width="6.3" height="10.6" fill="#fff"/>
<rect x="96.9" y="551.3" width="6.3" height="10.2" fill="#fff"/>
</svg>
</body></html>
